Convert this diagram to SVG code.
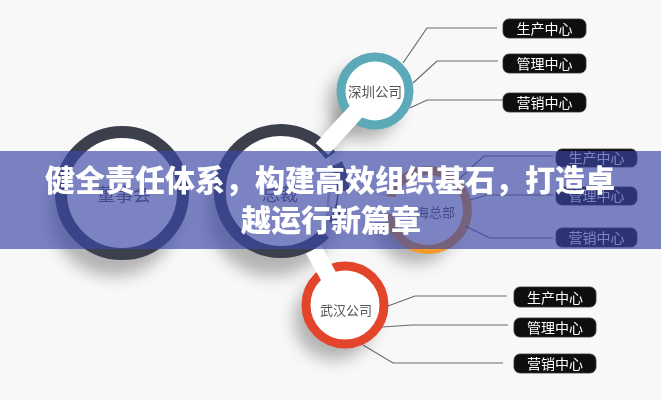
<svg xmlns="http://www.w3.org/2000/svg" width="661" height="400" viewBox="0 0 661 400">
<defs>
<filter id="blur" x="-50%" y="-50%" width="200%" height="200%"><feGaussianBlur stdDeviation="8"/></filter>
<style>
.bg{fill:#f8f8f8}
.big{fill:#ffffff;stroke:#3b404c;stroke-width:12}
.small{fill:#ffffff;stroke-width:9}
.stem{stroke:#ffffff;stroke-width:17;stroke-linecap:butt}
.conn{fill:none;stroke:#6a6a6a;stroke-width:1.2}
.lbl{fill:#0f0d0e;stroke:#333;stroke-width:0.8}
.lt{fill:#ffffff;font-family:"Noto Sans CJK SC","Noto Sans",sans-serif;font-size:14px;text-anchor:middle}
.ct{fill:#555555;font-family:"Noto Sans CJK SC","Noto Sans",sans-serif;text-anchor:middle}
.title{fill:#ffffff;font-family:"Noto Sans CJK SC","Noto Sans",sans-serif;font-size:30px;font-weight:900;text-anchor:middle}
.shd{fill:#000;opacity:0.28}
</style>
</defs>
<rect class="bg" x="0" y="0" width="661" height="400"/>

<g id="shadows" filter="url(#blur)">
<circle class="shd" cx="114" cy="212" r="64"/>
<circle class="shd" cx="272" cy="212" r="64"/>
<circle class="shd" cx="364" cy="104" r="36"/>
<circle class="shd" cx="416" cy="224" r="40"/>
<circle class="shd" cx="334" cy="320" r="40"/>
<line x1="352" y1="108" x2="318" y2="160" stroke="#000" stroke-width="16" opacity="0.25"/>
</g>

<g id="connectors">
<line class="stem" x1="375" y1="91" x2="318" y2="153"/>
<line class="stem" x1="428" y1="210" x2="330" y2="198"/>
<line class="stem" x1="345" y1="305" x2="310" y2="243"/>
</g>

<g id="n-dongshihui">
<circle class="big" cx="122" cy="193" r="61"/>
<text class="ct" x="124" y="201" font-size="18">董事会</text>
</g>

<g id="n-zongcai">
<path d="M 330.5 155.6 A 61 61 0 1 0 324.6 233.5" fill="#ffffff" stroke="#3b404c" stroke-width="12"/>
<path d="M 336.6 163.9 A 61 61 0 0 1 334 224" fill="none" stroke="#3b404c" stroke-width="12"/>
<text class="ct" x="280" y="201" font-size="18">总裁</text>
</g>

<g id="n-shenzhen">
<circle class="small" cx="375" cy="91" r="34" stroke="#5ca9b8"/>
<text class="ct" x="375" y="97" font-size="13.5">深圳公司</text>
</g>

<g id="n-shanghai">
<circle class="small" cx="428" cy="210" r="39.5" stroke="#f39a2b"/>
<text class="ct" x="429" y="217" font-size="13">上海总部</text>
</g>

<g id="n-wuhan">
<circle class="small" cx="345" cy="305" r="39" stroke="#e2452a"/>
<text class="ct" x="346" y="315" font-size="13">武汉公司</text>
</g>

<g id="stems-over">
<line class="stem" x1="362" y1="105" x2="322" y2="149"/>
<line class="stem" x1="405" y1="207" x2="338" y2="199"/>
<line class="stem" x1="335" y1="288" x2="314" y2="250"/>
</g>

<g id="lines">
<polyline class="conn" points="403,63 427,28 497,28"/>
<polyline class="conn" points="413,83 437,61 498,61"/>
<polyline class="conn" points="410,108 427,100 503,100"/>
<polyline class="conn" points="459,179 484,156 553,156"/>
<polyline class="conn" points="470,200 486,195 553,195"/>
<polyline class="conn" points="465,226 490,238 553,238"/>
<polyline class="conn" points="388,306 415,296 507,296"/>
<polyline class="conn" points="382,327 412,325 508,325"/>
<polyline class="conn" points="363,345 393,363 503,363"/>
</g>

<g id="l-sz-1"><rect class="lbl" x="503" y="19" width="83" height="19" rx="6"/><text class="lt" x="544.5" y="34">生产中心</text></g>
<g id="l-sz-2"><rect class="lbl" x="503" y="54" width="83" height="19" rx="6"/><text class="lt" x="544.5" y="69">管理中心</text></g>
<g id="l-sz-3"><rect class="lbl" x="503" y="93" width="83" height="19" rx="6"/><text class="lt" x="544.5" y="108">营销中心</text></g>
<g id="l-sh-1"><rect class="lbl" x="556" y="149" width="81" height="18" rx="6"/><text class="lt" x="596.5" y="163">生产中心</text></g>
<g id="l-sh-2"><rect class="lbl" x="556" y="187" width="81" height="18" rx="6"/><text class="lt" x="596.5" y="201">管理中心</text></g>
<g id="l-sh-3"><rect class="lbl" x="556" y="228" width="81" height="19" rx="6"/><text class="lt" x="596.5" y="243">营销中心</text></g>
<g id="l-wh-1"><rect class="lbl" x="514" y="287" width="82" height="20" rx="6"/><text class="lt" x="555" y="302.5">生产中心</text></g>
<g id="l-wh-2"><rect class="lbl" x="514" y="318" width="82" height="19" rx="6"/><text class="lt" x="555" y="333">管理中心</text></g>
<g id="l-wh-3"><rect class="lbl" x="514" y="354" width="82" height="19" rx="6"/><text class="lt" x="555" y="369">营销中心</text></g>

<rect id="overlay" x="0" y="151" width="661" height="98" fill="rgb(58,70,166)" opacity="0.67"/>
<g id="title">
<text class="title" x="330" y="191">健全责任体系，构建高效组织基石，打造卓</text>
<text class="title" x="331" y="231">越运行新篇章</text>
</g>
</svg>
